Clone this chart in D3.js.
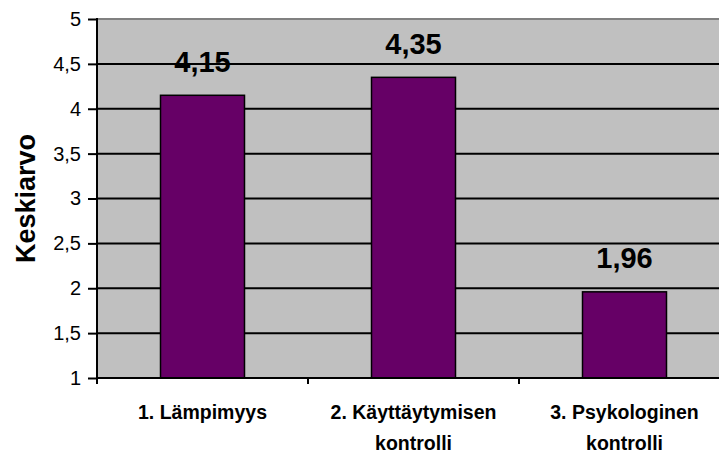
<!DOCTYPE html>
<html>
<head>
<meta charset="utf-8">
<title>Keskiarvo</title>
<script src="https://d3js.org/d3.v7.min.js"></script>
<style>
body { margin: 0; background: #fff; }
text { font-family: "Liberation Sans", Arial, sans-serif; fill: #000; }
.grid line { stroke: #000; stroke-width: 2; }
</style>
</head>
<body>
<svg id="chart" width="719" height="454"></svg>
<script>
var categories = [["1. Lämpimyys"], ["2. Käyttäytymisen", "kontrolli"], ["3. Psykologinen", "kontrolli"]];
var values = [4.15, 4.35, 1.96];
var valueLabels = ["4,15", "4,35", "1,96"];
var yTicks = [1, 1.5, 2, 2.5, 3, 3.5, 4, 4.5, 5];

var svg = d3.select('#chart');
// plot box (named to avoid clashing with window.top)
var pLeft = 97, pTop = 19, pBottom = 378, pRight = 730;

var x = d3.scaleBand()
  .domain(d3.range(categories.length))
  .range([pLeft, pRight])
  .paddingInner(0).paddingOuter(0);
var y = d3.scaleLinear().domain([1, 5]).range([pBottom, pTop]);
var fmt = function(d) { return String(d).replace('.', ','); };

// plot background
svg.append('rect')
  .attr('x', pLeft).attr('y', pTop)
  .attr('width', pRight - pLeft).attr('height', pBottom - pTop)
  .attr('fill', '#c0c0c0');
svg.append('line')
  .attr('x1', pLeft).attr('x2', pRight)
  .attr('y1', pTop).attr('y2', pTop)
  .attr('stroke', '#808080').attr('stroke-width', 2);

// gridlines
svg.append('g').attr('class', 'grid')
  .selectAll('line')
  .data(yTicks.filter(function(d) { return d > 1 && d < 5; }))
  .enter().append('line')
    .attr('x1', pLeft).attr('x2', pRight)
    .attr('y1', function(d) { return y(d); })
    .attr('y2', function(d) { return y(d); });

// bars
var bw = 84;
svg.selectAll('rect.bar')
  .data(values)
  .enter().append('rect')
    .attr('class', 'bar')
    .attr('x', function(d, i) { return x(i) + x.bandwidth() / 2 - bw / 2; })
    .attr('y', function(d) { return y(d); })
    .attr('width', bw)
    .attr('height', function(d) { return y(1) - y(d); })
    .attr('fill', '#660066')
    .attr('stroke', '#000')
    .attr('stroke-width', 1.5);

// value labels
svg.selectAll('text.val')
  .data(values)
  .enter().append('text')
    .attr('class', 'val')
    .attr('x', function(d, i) { return x(i) + x.bandwidth() / 2; })
    .attr('y', function(d) { return y(d) - 23.5; })
    .attr('text-anchor', 'middle')
    .attr('font-size', 29)
    .attr('font-weight', 'bold')
    .text(function(d, i) { return valueLabels[i]; });

// y axis
var yAxis = d3.axisLeft(y).tickValues(yTicks).tickFormat(fmt).tickSize(9).tickPadding(7);
var gy = svg.append('g').attr('transform', 'translate(' + pLeft + ',0)').call(yAxis);
gy.select('.domain').remove();
gy.append('line').attr('x1', 0).attr('x2', 0).attr('y1', pTop - 1).attr('y2', pBottom + 1)
  .attr('stroke', '#000').attr('stroke-width', 2);
gy.selectAll('.tick line').attr('stroke', '#000').attr('stroke-width', 2);
gy.selectAll('.tick text').attr('font-size', 20).attr('font-family', '"Liberation Sans", Arial, sans-serif').attr('fill', '#000');

// x axis
var gx = svg.append('g');
gx.append('line').attr('x1', pLeft - 1).attr('x2', pRight).attr('y1', pBottom).attr('y2', pBottom)
  .attr('stroke', '#000').attr('stroke-width', 2);
gx.selectAll('line.xt')
  .data(d3.range(categories.length))
  .enter().append('line')
    .attr('x1', function(d) { return x(d); }).attr('x2', function(d) { return x(d); })
    .attr('y1', pBottom).attr('y2', pBottom + 6)
    .attr('stroke', '#000').attr('stroke-width', 2);
var xl = gx.selectAll('text.cat')
  .data(categories)
  .enter().append('text')
    .attr('class', 'cat')
    .attr('text-anchor', 'middle')
    .attr('font-size', 19.5)
    .attr('font-weight', 'bold')
    .attr('transform', function(d, i) { return 'translate(' + (x(i) + x.bandwidth() / 2) + ',419)'; });
xl.selectAll('tspan')
  .data(function(d) { return d; })
  .enter().append('tspan')
    .attr('x', 0)
    .attr('y', function(d, j) { return j * 31; })
    .text(function(d) { return d; });

// y title
svg.append('text')
  .attr('transform', 'translate(35,' + ((pTop + pBottom) / 2) + ') rotate(-90)')
  .attr('text-anchor', 'middle')
  .attr('font-size', 27)
  .attr('font-weight', 'bold')
  .text('Keskiarvo');
</script>
</body>
</html>
